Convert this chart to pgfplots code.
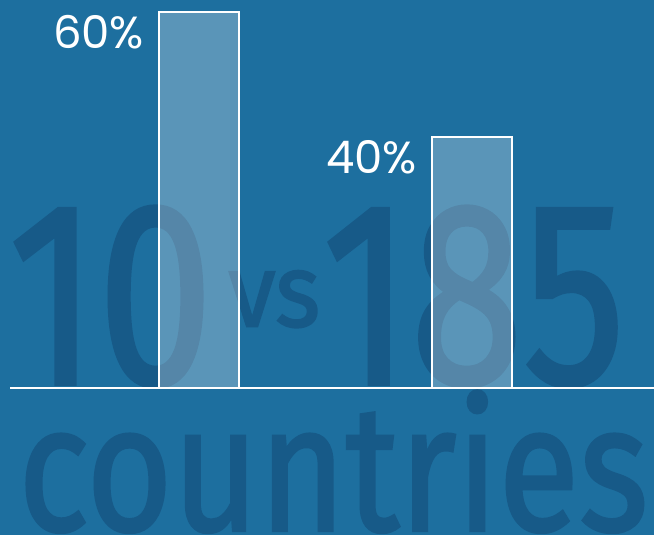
\documentclass[border=0pt]{standalone}
\usepackage{pgfplots}
\pgfplotsset{compat=1.18}
\usepackage{fontspec}
\setmainfont{Poppins}
\newfontfamily\bigfont[FakeBold=1.6]{Fira Sans}
\definecolor{bg}{HTML}{1D6F9F}
\definecolor{darktext}{HTML}{175A88}

\begin{document}
\begin{tikzpicture}
  % background
  \fill[bg] (0,0) rectangle (654bp,535bp);

  % large decorative text behind the bars
  \begin{scope}[every node/.style={inner sep=0pt, anchor=south west, text=darktext}]
    \node at (8bp,148bp)   {\resizebox{205bp}{177bp}{\bigfont 10}};
    \node at (228bp,207bp) {\resizebox{92bp}{56bp}{\bigfont vs}};
    \node at (322bp,148bp) {\resizebox{303bp}{177bp}{\bigfont 185}};
    \node at (18bp,2bp)    {\resizebox{630bp}{140bp}{\bigfont countries}};
  \end{scope}

  \begin{axis}[
      at={(10bp,147bp)}, anchor=south west,
      scale only axis,
      width=644bp, height=376bp,
      xmin=-0.6923, xmax=1.6667,
      ymin=0, ymax=60,
      axis x line*=bottom,
      axis y line=none,
      axis line style={white, line width=2bp, -},
      xtick=\empty, ytick=\empty,
      clip=false,
      bar width=80bp,
      nodes near coords={\pgfmathprintnumber[assume math mode=true]{\pgfplotspointmeta}\%},
      point meta=y,
      every node near coord/.style={
        anchor=north east, inner sep=0pt, text=white,
        font=\fontsize{45bp}{47bp}\selectfont,
        xshift=-54bp, yshift=-2bp},
    ]
    \addplot[ybar, draw=white, line width=2bp, fill=white, fill opacity=0.27,
             text opacity=1]
      coordinates {(0,60) (1,40)};
  \end{axis}

  \pgfresetboundingbox
  \useasboundingbox (0,0) rectangle (654bp,535bp);
\end{tikzpicture}
\end{document}
